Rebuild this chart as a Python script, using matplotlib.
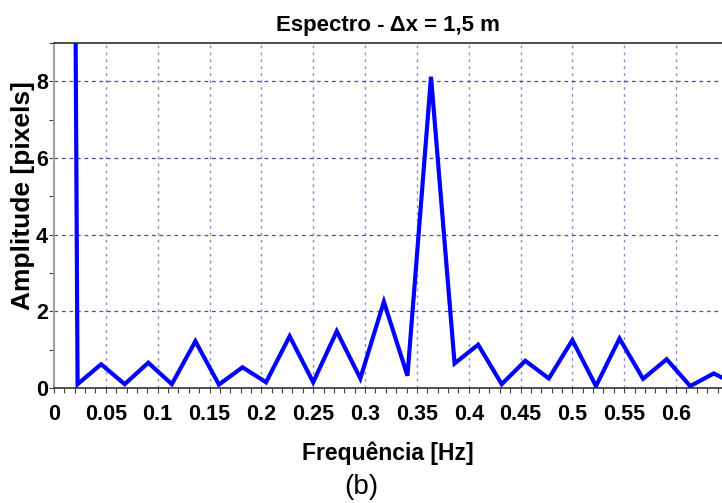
import numpy as np
import matplotlib
matplotlib.use("Agg")
import matplotlib.pyplot as plt
from matplotlib.ticker import MultipleLocator

# Amplitude spectrum, bin spacing 1/44 Hz (DC bin clipped by the y limit)
bins = np.arange(30)
df = 1.0 / 44.0
amplitude = [110.0, 0.10, 0.62, 0.10, 0.66, 0.10, 1.22, 0.09, 0.54, 0.15,
             1.35, 0.15, 1.48, 0.25, 2.25, 0.32, 8.12, 0.64, 1.13, 0.10,
             0.71, 0.25, 1.25, 0.05, 1.29, 0.24, 0.75, 0.05, 0.38, 0.07]
freq = bins * df

xticks = [0, 0.05, 0.1, 0.15, 0.2, 0.25, 0.3, 0.35, 0.4, 0.45, 0.5, 0.55, 0.6]
xticklabels = ["0", "0.05", "0.1", "0.15", "0.2", "0.25", "0.3", "0.35",
               "0.4", "0.45", "0.5", "0.55", "0.6"]
yticks = [0, 2, 4, 6, 8]

sans = ["Liberation Sans", "DejaVu Sans"]

fig = plt.figure(figsize=(7.22, 5.03), dpi=100)
ax = fig.add_axes([0.0748, 0.2286, 0.9252, 0.6859])

ax.plot(freq, amplitude, color="#0000ff", linewidth=3.0, zorder=5,
        solid_joinstyle="miter")

ax.set_xlim(0, 0.6443)
ax.set_ylim(0, 9)

# grid: dotted verticals, dashed horizontals
for x in xticks[1:]:
    ax.axvline(x, color="#8a8ad2", linestyle=(0, (2, 3)), linewidth=1.0, zorder=1)
for y in yticks[1:]:
    ax.axhline(y, color="#4c4c9c", linestyle=(0, (3, 3)), linewidth=0.9, zorder=1)

ax.set_xticks(xticks)
ax.set_xticklabels(xticklabels)
ax.set_yticks(yticks)
ax.xaxis.set_minor_locator(MultipleLocator(0.01))
ax.yaxis.set_minor_locator(MultipleLocator(1))
ax.tick_params(axis="both", which="both", direction="out", length=3.5,
               width=0.8, color="#404040")
ax.tick_params(axis="x", which="major", pad=8)
ax.tick_params(axis="y", which="major", pad=1)
for lab in ax.get_xticklabels() + ax.get_yticklabels():
    lab.set_family(sans)
    lab.set_fontweight("bold")
    lab.set_fontsize(15.5)

ax.spines["left"].set_color("#a0a0a0")
ax.spines["left"].set_linewidth(1.5)
ax.spines["top"].set_color("#303030")
ax.spines["top"].set_linewidth(1.2)
ax.spines["bottom"].set_color("#303030")
ax.spines["bottom"].set_linewidth(1.2)
ax.spines["right"].set_visible(False)

ax.set_title("Espectro - Δx = 1,5 m", family=sans, fontweight="bold",
             fontsize=16, pad=9)
ax.set_xlabel("Frequência [Hz]", family=sans, fontweight="bold",
              fontsize=16.5, labelpad=12)
ax.set_ylabel("Amplitude [pixels]", family=sans, fontweight="bold",
              fontsize=19)
ax.yaxis.set_label_coords(-0.028, 0.557)

fig.text(0.5, 0.032, "(b)", ha="center", va="center", fontsize=20,
         family=sans)

fig.savefig("out.png", dpi=100)
